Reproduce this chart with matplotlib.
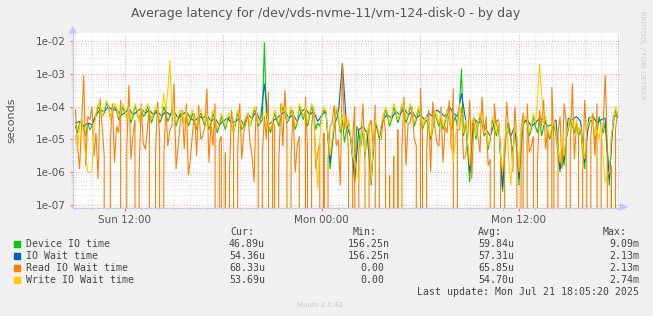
import numpy as np
import matplotlib
matplotlib.use("Agg")
import matplotlib.pyplot as plt
from matplotlib.patches import Rectangle
from matplotlib.ticker import FixedLocator, FuncFormatter, LogLocator, NullFormatter

# ---------------- data ----------------
# time in hours relative to Mon 00:00
t_start = -15.0
t_step_q = 0.25     # samples on the quarter hours
t_step_h = 0.125    # quarter-hour samples interleaved with the in-between samples
Z = None  # value 0 (drawn to the bottom of the log axis)

# all values as log10(seconds)
# device io time: quarter-hour samples
device_io_q = [
    -4.6, -4.5, -4.7, -4.5, -4.6, -4.3, -4.1, -4.2, -4.0, -4.15,
    -4.1, -4.3, -4.2, -4.1, -4.3, -4.2, -4.1, -4.25, -4.15, -4.3,
    -4.2, -4.35, -4.2, -4.3, -4.2, -4.4, -4.3, -4.2, -4.4, -4.5,
    -4.35, -4.4, -4.3, -4.5, -4.4, -4.6, -4.5, -4.4, -4.55, -4.5,
    -4.4, -4.6, -4.3, -4.4, -4.2, -4.5, -2.04, -4.6, -4.5, -4.4,
    -4.3, -4.2, -4.4, -4.3, -4.5, -4.2, -4.1, -4.3, -4.2, -4.5,
    -4.3, -4.2, -5.9, -4.6, -4.3, -4.4, -4.7, -5.0, -6.3, -4.8,
    -4.7, -4.9, -6.4, -4.5, -5.0, -4.4, -4.3, -4.4, -4.2, -4.3,
    -4.1, -4.3, -4.2, -4.4, -4.3, -4.5, -4.6, -4.7, -4.4, -4.3,
    -4.5, -4.4, -4.5, -4.6, -2.85, -4.5, -6.3, -4.4, -4.6, -4.5,
    -4.8, -5.0, -4.6, -4.5, -6.6, -4.6, -5.0, -4.7, -6.4, -4.6,
    -4.5, -4.7, -4.6, -4.4, -4.6, -4.8, -4.7, -4.9, -6.0, -5.8,
    -4.7, -4.6, -4.5, -4.7, -5.9, -4.6, -4.5, -4.8, -4.6, -4.5,
    -6.4, -4.5, -4.33,
]
# device io time: in-between samples
device_io_m = [
    -4.8, -4.4, -4.9, -4.7, -4.4, -4.0, -4.3, -3.9, -4.3, -4.0,
    -4.4, -4.0, -4.3, -4.5, -3.95, -4.4, -4.3, -4.0, -4.5, -4.1,
    -4.5, -4.0, -4.45, -4.1, -4.6, -4.2, -4.5, -4.6, -4.2, -4.7,
    -4.2, -4.6, -4.7, -4.2, -4.8, -4.3, -4.7, -4.3, -4.8, -4.2,
    -4.7, -4.4, -4.6, -4.1, -4.6, -4.4, -4.3, -4.8, -4.2, -4.6,
    -4.0, -4.5, -4.1, -4.7, -4.0, -4.4, -4.6, -4.0, -4.7, -4.6,
    -4.1, -5.0, -5.2, -4.1, -4.8, -5.1, -4.5, -5.6, -4.6, -5.2,
    -5.5, -4.6, -5.3, -4.7, -4.6, -4.1, -4.6, -4.0, -4.5, -4.0,
    -4.5, -4.0, -4.6, -4.1, -4.7, -4.4, -5.0, -4.2, -4.6, -4.7,
    -4.2, -4.7, -4.3, -4.0, -4.9, -5.3, -4.6, -5.0, -4.3, -4.9,
    -5.3, -4.4, -4.9, -5.5, -5.2, -4.5, -5.4, -5.0, -4.9, -4.4,
    -4.9, -4.3, -4.8, -4.9, -4.4, -5.0, -4.5, -5.4, -5.1, -5.0,
    -4.4, -4.8, -4.9, -5.3, -4.8, -4.4, -5.0, -4.3, -4.8, -5.5,
    -5.0, -4.1,
]
# io wait time: quarter-hour samples
io_wait = [
    -4.5, -4.45, -4.6, -4.5, -4.55, -4.25, -4.1, -4.15, -4.0, -4.1,
    -4.1, -4.25, -4.2, -4.05, -4.25, -4.15, -4.05, -4.2, -4.1, -4.25,
    -4.15, -4.3, -4.15, -4.25, -4.15, -4.35, -4.25, -4.15, -4.35, -4.45,
    -4.3, -4.35, -4.25, -4.45, -4.35, -4.55, -4.45, -4.35, -4.5, -4.45,
    -4.35, -4.55, -4.25, -4.35, -4.15, -4.45, -3.3, -4.55, -4.45, -4.35,
    -4.25, -4.15, -4.35, -4.25, -4.45, -4.15, -4.05, -4.25, -4.15, -4.45,
    -4.25, -4.15, -5.7, -4.55, -4.25, -2.67, -4.6, -4.9, -6.2, -4.7,
    -4.6, -4.8, -6.3, -4.45, -4.9, -4.35, -4.25, -4.35, -4.15, -4.25,
    -4.05, -4.25, -4.15, -4.35, -4.25, -4.4, -4.2, -4.3, -4.1, -4.2,
    -4.3, -4.0, -4.2, -4.3, -3.6, -4.4, -6.0, -4.35, -4.5, -4.45,
    -4.7, -4.9, -4.5, -4.4, -6.5, -4.5, -4.9, -4.6, -6.2, -4.5,
    -4.4, -4.6, -4.5, -4.35, -4.4, -4.6, -4.55, -4.4, -5.9, -5.6,
    -4.35, -4.4, -4.3, -4.45, -5.7, -4.35, -4.3, -4.5, -4.4, -4.35,
    -6.2, -4.3, -4.26,
]
# read io wait: quarter-hour samples
read_io_wait_q = [
    -4.1, -5.9, -3.05, -4.3, -4.0, -4.8, -3.75, -5.5, Z, -3.9,
    -4.6, -3.8, Z, -3.34, -4.9, Z, -3.9, -5.3, -4.0, Z,
    -3.85, Z, -4.0, -4.7, -3.3, -5.2, -4.1, -3.9, -5.6, -4.2,
    -3.95, -4.9, -3.46, -4.5, -3.9, -5.1, Z, Z, -4.1, Z,
    -3.9, -4.8, -4.2, -5.5, -4.0, Z, -4.3, -3.55, -4.4, Z,
    -3.9, -3.5, Z, -4.1, -5.2, Z, -3.7, Z, -4.0, -5.4,
    Z, Z, -4.6, -3.95, -5.0, -2.67, -4.3, Z, -4.0, -5.3,
    -3.9, Z, -4.4, -3.95, -5.0, -4.2, Z, Z, Z, Z,
    -3.7, -4.5, -4.0, -5.2, -3.43, Z, -4.1, -3.85, -5.1, -4.0,
    -4.6, -3.8, -3.45, -4.7, -4.0, -5.5, -3.8, -4.4, -4.9, -3.7,
    -4.3, -5.6, -3.9, -4.5, Z, -3.85, -4.8, -4.0, Z, -4.2,
    -3.9, -5.2, Z, -4.1, -3.8, -4.6, -3.4, Z, -4.3, -3.9,
    Z, -3.3, -4.5, Z, -3.8, Z, -4.2, -3.9, -5.0, -3.04,
    Z, Z, -4.17,
]
# read io wait: in-between samples
read_io_wait_m = [
    -5.2, -4.5, -5.8, -4.4, -5.5, -6.2, -4.6, Z, -5.0, -5.7,
    -4.8, Z, -5.3, -5.6, -4.4, -6.0, -5.1, -4.7, Z, -5.4,
    -4.9, -5.6, -5.2, -4.6, -5.9, -4.5, -5.3, -6.1, -4.8, -5.5,
    -5.0, -4.6, -5.7, -5.2, Z, -4.9, -5.4, -6.0, -4.7, -5.3,
    -5.6, -4.5, -5.1, -6.3, -4.8, -5.5, -5.0, Z, -4.6, -5.8,
    -5.2, -4.7, -5.5, -6.0, -4.9, Z, -5.3, -4.6, -5.9, -5.1,
    -4.8, -5.6, -4.5, -5.2, -6.4, -4.7, -5.4, -5.0, Z, -4.9,
    -5.7, -4.6, -5.3, Z, -5.0, -4.8, -6.1, -5.5, -4.7, -5.2,
    -5.8, -4.5, -5.0, Z, -4.9, -5.4, -6.0, -4.6, -5.2, -5.7,
    -4.8, -5.3, Z, -4.7, -5.6, -5.0, -6.2, -4.5, -5.4, -4.9,
    -5.8, Z, -4.6, -5.2, -5.5, -4.8, -6.0, -5.1, -4.7, Z,
    -5.4, -4.9, -5.7, -4.6, -5.3, Z, -5.0, -4.8, -5.9, -4.5,
    -5.2, -5.6, -4.7, -6.1, -5.0, -4.9, -5.5, Z, -4.6, -5.3,
    -5.8, -4.7,
]
# write io wait: quarter-hour samples
write_io_wait_q = [
    -4.9, -4.6, -5.0, -6.0, -6.0, -4.2, -4.0, -4.1, -3.95, -4.1,
    -4.0, -4.2, -4.1, -4.0, -4.2, -4.1, -4.0, -4.15, -4.05, -4.2,
    -4.1, -4.25, -4.1, -2.58, -4.1, -4.3, -4.2, -4.1, -4.3, -4.4,
    -4.25, -4.3, -4.2, -4.4, -4.3, -4.5, -4.4, -4.3, -4.45, -4.4,
    -4.3, -4.5, -4.2, -4.3, -4.1, -4.4, -4.3, -4.5, -4.4, -4.3,
    -4.2, -4.1, -4.3, -4.2, -4.4, -4.1, -4.0, -4.2, -4.1, -6.5,
    -4.2, -4.1, -5.5, -4.5, -4.2, -4.3, -4.6, -4.9, -5.6, -6.3,
    -4.6, -4.8, -6.3, -4.4, -4.9, -4.3, -4.2, -4.3, -4.1, -4.2,
    -4.0, -4.2, -4.1, -4.3, -4.2, -4.4, -4.5, -4.6, -4.3, -4.2,
    -4.4, -4.3, -5.7, -4.5, -4.4, -4.4, -5.8, -4.3, -4.5, -4.4,
    -4.7, -4.9, -4.5, -4.4, -6.0, -4.5, -6.4, -4.6, -6.0, -4.5,
    -4.4, -4.6, -4.5, -2.7, -4.5, -4.7, -4.6, -4.8, -5.7, -5.5,
    -4.6, -4.5, -4.4, -4.6, -5.6, -4.5, -4.4, -4.7, -4.5, -6.3,
    -6.0, -4.4, -4.27,
]
# write io wait: in-between samples
write_io_wait_m = [
    -5.3, -4.3, -5.5, -6.0, -4.8, -3.9, -4.3, -3.8, -4.4, -3.9,
    -4.3, -3.9, -4.4, -4.4, -3.9, -4.5, -4.2, -3.9, -4.4, -4.0,
    -4.4, -3.6, -3.5, -4.3, -4.5, -4.1, -4.5, -4.5, -4.1, -4.6,
    -4.1, -4.5, -4.6, -4.1, -4.7, -4.2, -4.6, -4.2, -4.8, -4.1,
    -4.6, -4.3, -4.6, -4.0, -4.5, -4.3, -4.2, -4.7, -4.1, -4.5,
    -3.9, -4.4, -4.0, -4.6, -3.9, -4.3, -4.5, -3.9, -5.4, -5.0,
    -4.0, -4.9, -5.0, -4.0, -4.7, -4.2, -4.4, -5.5, -6.0, -5.0,
    -5.4, -4.5, -5.2, -4.6, -4.5, -4.0, -4.5, -3.9, -4.4, -3.9,
    -4.4, -3.9, -4.5, -4.0, -4.6, -4.3, -4.9, -4.1, -4.5, -4.6,
    -4.1, -4.9, -5.0, -3.9, -4.8, -5.1, -4.5, -4.9, -4.2, -4.8,
    -5.2, -4.3, -4.8, -5.4, -5.1, -5.6, -5.6, -4.9, -4.8, -4.3,
    -4.8, -4.2, -3.8, -3.6, -4.3, -4.9, -4.4, -5.3, -5.0, -4.9,
    -4.3, -4.7, -4.8, -5.2, -4.7, -4.3, -4.9, -5.0, -5.6, -6.1,
    -4.9, -4.0,
]

series_names = ["Device IO time", "IO Wait time", "Read IO Wait time", "Write IO Wait time"]
series_colors = ["#00CC00", "#0066B3", "#FF8000", "#FFCC00"]
cur_vals = ["46.89u", "54.36u", "68.33u", "53.69u"]
min_vals = ["156.25n", "156.25n", "0.00", "0.00"]
avg_vals = ["59.84u", "57.31u", "65.85u", "54.70u"]
max_vals = ["9.09m", "2.13m", "2.13m", "2.74m"]

x_tick_pos = [-12, 0, 12]
x_tick_labels = ["Sun 12:00", "Mon 00:00", "Mon 12:00"]
y_tick_exp = [-2, -3, -4, -5, -6, -7]

title = "Average latency for /dev/vds-nvme-11/vm-124-disk-0 - by day"
last_update = "Last update: Mon Jul 21 18:05:20 2025"

# ---------------- figure ----------------
W, H = 653, 316
fig = plt.figure(figsize=(W / 100, H / 100), dpi=100, facecolor="#F0F0F0")

def fx(px):
    return px / W

def fy(py):
    return 1 - py / H

ax = fig.add_axes([fx(73), fy(208), fx(620) - fx(73), fy(33) - fy(208)])
ax.set_facecolor("white")
ax.set_yscale("log", nonpositive="clip")
ax.set_xlim(-15.15, 18.15)
ax.set_ylim(10 ** -7.09, 10 ** -1.756)

def to_lin(vals):
    return np.array([0.0 if v is None else 10.0 ** v for v in vals])

def merge(q, m):
    out = [None] * (len(q) + len(m))
    out[0::2] = q
    out[1::2] = m
    return out

series = [
    (merge(device_io_q, device_io_m), t_step_h),
    (io_wait, t_step_q),
    (merge(read_io_wait_q, read_io_wait_m), t_step_h),
    (merge(write_io_wait_q, write_io_wait_m), t_step_h),
]
for (vals, step), col in zip(series, series_colors):
    y = to_lin(vals)
    t = t_start + step * np.arange(len(y))
    ax.plot(t, y, color=col, lw=0.8, zorder=3, solid_joinstyle="miter")

# grids
ax.xaxis.set_major_locator(FixedLocator(x_tick_pos))
ax.xaxis.set_minor_locator(FixedLocator(np.arange(-15, 19, 1)))
ax.set_xticklabels(x_tick_labels)
for xv in np.arange(-12, 19, 6):
    ax.axvline(xv, color="#F2A0A0", lw=0.7, ls=(0, (1, 2)), zorder=1)
ax.grid(True, which="minor", axis="x", color="#D2D2D2", lw=0.6, ls=(0, (1, 2)), zorder=0)

ax.yaxis.set_major_locator(FixedLocator([10.0 ** e for e in y_tick_exp]))
ax.yaxis.set_major_formatter(FuncFormatter(lambda v, p: "1e-%02d" % round(-np.log10(v))))
ax.yaxis.set_minor_locator(LogLocator(base=10, subs=np.arange(2, 10)))
ax.yaxis.set_minor_formatter(NullFormatter())
ax.grid(True, which="minor", axis="y", color="#D2D2D2", lw=0.6, ls=(0, (1, 2)), zorder=0)
for e in y_tick_exp:
    ax.axhline(10.0 ** e, color="#F2A0A0", lw=0.7, ls=(0, (1, 2)), zorder=1)

for s in ["top", "right"]:
    ax.spines[s].set_visible(False)
for s in ["left", "bottom"]:
    ax.spines[s].set_color("#C8C8E8")
    ax.spines[s].set_linewidth(0.8)
ax.tick_params(axis="both", which="major", length=2, color="#D08080", labelsize=7.5,
               labelcolor="#555555", pad=3)
ax.tick_params(axis="both", which="minor", length=1.5, color="#C8C8C8")

# arrows on axes
fig.patches.append(plt.Polygon([[fx(70), fy(33)], [fx(76), fy(33)], [fx(73), fy(27)]],
                               closed=True, color="#C8C8F0", transform=fig.transFigure))
fig.patches.append(plt.Polygon([[fx(620), fy(204)], [fx(620), fy(210)], [fx(627), fy(207)]],
                               closed=True, color="#C8C8F0", transform=fig.transFigure))

# texts
fig.text(fx(326), fy(13), title, ha="center", va="center", fontsize=9, color="#555555")
fig.text(fx(11), fy(120), "seconds", rotation=90, ha="center", va="center",
         fontsize=8, color="#555555")
fig.text(fx(642), fy(55), "RRDTOOL / TOBI OETIKER", rotation=270, ha="center", va="center",
         fontsize=5, color="#CCCCCC")

mono = "DejaVu Sans Mono"
fs = 7.1
tc = "#444444"
cw = 5.9
fig.text(fx(230), fy(232), "Cur:", ha="left", va="center", family=mono, fontsize=fs, color=tc)
fig.text(fx(353), fy(232), "Min:", ha="left", va="center", family=mono, fontsize=fs, color=tc)
fig.text(fx(478), fy(232), "Avg:", ha="left", va="center", family=mono, fontsize=fs, color=tc)
fig.text(fx(603), fy(232), "Max:", ha="left", va="center", family=mono, fontsize=fs, color=tc)

def rtext(xend, yy, s):
    shift = 0 if s[-1].isalpha() else cw
    fig.text(fx(xend - shift), fy(yy), s, ha="right", va="center", family=mono,
             fontsize=fs, color=tc)

for i, name in enumerate(series_names):
    yy = 244 + 12 * i
    fig.patches.append(Rectangle((fx(14), fy(yy + 3)), fx(6), fy(yy - 3) - fy(yy + 3),
                                 color=series_colors[i], transform=fig.transFigure))
    fig.text(fx(26), fy(yy), name, ha="left", va="center", family=mono, fontsize=fs, color=tc)
    rtext(265, yy, cur_vals[i])
    rtext(390, yy, min_vals[i])
    rtext(514, yy, avg_vals[i])
    rtext(639, yy, max_vals[i])

fig.text(fx(639), fy(292), last_update, ha="right", va="center", family=mono, fontsize=fs, color=tc)
fig.text(fx(320), fy(305), "Munin 2.0.42", ha="center", va="center", fontsize=5, color="#C8C8C8")

fig.savefig("out.png", dpi=100, facecolor=fig.get_facecolor())
